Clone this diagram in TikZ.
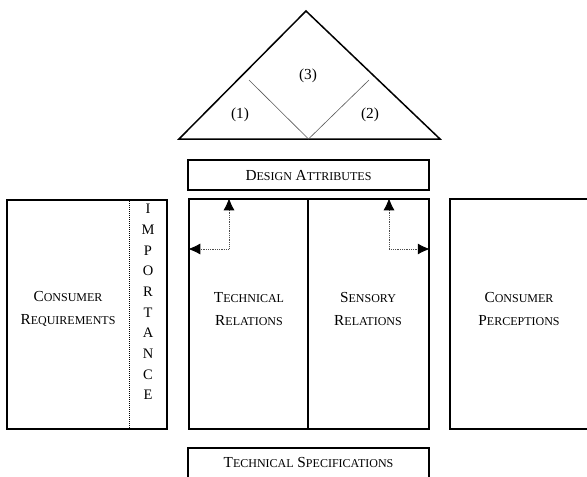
\documentclass[tikz,border=0pt]{standalone}
\usepackage{fontspec}
\setmainfont{Liberation Serif}
\usetikzlibrary{arrows.meta}
\newcommand\fsc[2]{#1{\fontsize{12}{12}\selectfont #2}}
\tikzset{
  box/.style={draw, line width=1.5pt, inner sep=0pt, anchor=center},
  lbl/.style={align=center, inner sep=0pt, font=\fontsize{15.3}{23.5}\selectfont},
  tip/.tip={Latex[length=12pt,width=11pt,color=black,fill=black]},
  dotarrow/.style={densely dotted, line width=0.8pt, draw=black!70, tip-tip},
  thin/.style={line width=0.6pt, draw=black!65},
}
\begin{document}
\begin{tikzpicture}[x=1pt,y=-1pt]
\useasboundingbox (0,0) rectangle (587,477);
\clip (0,0) rectangle (587,477);
% house roof
\coordinate (apex) at (306,11);
\coordinate (bl) at (179,139);
\coordinate (br) at (440,139);
\coordinate (ib) at (308.5,139);
\coordinate (il) at (249,80);
\coordinate (ir) at (369,80);
\draw[line width=1.5pt, line join=miter] (bl) -- (apex) -- (br) -- cycle;
\draw[thin] (il) -- (ib) -- (ir);
\node[lbl] (r1) at (240,115) {(1)};
\node[lbl] (r3) at (308,76) {(3)};
\node[lbl] (r2) at (370,115) {(2)};
% design attributes
\node[box, minimum width=241pt, minimum height=30pt] (da) at (308.5,175) {};
\node[lbl] (dat) at (308.5,176) {\fsc{D}{ESIGN} \fsc{A}{TTRIBUTES}};
% consumer requirements
\node[box, minimum width=160pt, minimum height=229pt] (cr) at (87,314.5) {};
\coordinate (dv) at (129,0);
\draw[densely dotted, line width=1pt] (cr.north -| dv) -- (cr.south -| dv);
\node[lbl] (crt) at (68,309) {\fsc{C}{ONSUMER}\\\fsc{R}{EQUIREMENTS}};
\node[align=center, inner sep=0pt, font=\fontsize{14.5}{20.7}\selectfont] (imp) at (148,302)
  {I\\M\\P\\O\\R\\T\\A\\N\\C\\E};
% technical / sensory relations
\node[box, minimum width=119pt, minimum height=230pt] (tr) at (248.5,314) {};
\node[box, minimum width=121pt, minimum height=230pt] (sr) at (368.5,314) {};
\node[lbl] (trt) at (249,309) {\fsc{T}{ECHNICAL}\\\fsc{R}{ELATIONS}};
\node[lbl] (srt) at (368,309) {\fsc{S}{ENSORY}\\\fsc{R}{ELATIONS}};
% arrows
\coordinate (c1) at (229,249);
\coordinate (c2) at (389,249);
\draw[dotarrow] (tr.north -| c1) -- (c1) -- (c1 -| tr.west);
\draw[dotarrow] (sr.north -| c2) -- (c2) -- (c2 -| sr.east);
% consumer perceptions
\node[box, minimum width=151pt, minimum height=230pt, anchor=west] (cp) at (449,314) {};
\node[lbl] (cpt) at (519,309) {\fsc{C}{ONSUMER}\\\fsc{P}{ERCEPTIONS}};
% technical specifications
\node[box, minimum width=241pt, minimum height=44pt] (ts) at (308.5,470) {};
\node[lbl] (tst) at (308.5,463) {\fsc{T}{ECHNICAL} \fsc{S}{PECIFICATIONS}};
\end{tikzpicture}
\end{document}
